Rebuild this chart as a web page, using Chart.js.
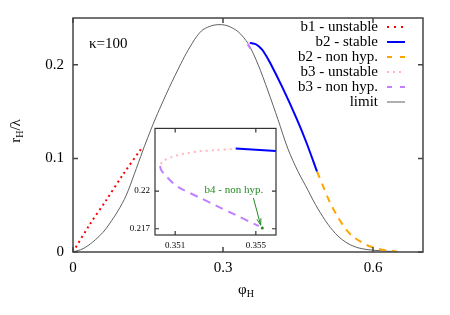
<!DOCTYPE html>
<html>
<head>
<meta charset="utf-8">
<script src="https://cdn.jsdelivr.net/npm/chart.js@4.4.1/dist/chart.umd.min.js"></script>
<style>
  html, body { margin: 0; padding: 0; background: #fff; }
  #wrap { position: relative; width: 450px; height: 315px; }
  #main { position: absolute; left: 0; top: 0; }
  #inset { position: absolute; left: 100px; top: 118px; }
</style>
</head>
<body>
<div id="wrap">
  <canvas id="main" width="450" height="315"></canvas>
  <canvas id="inset" width="190" height="134"></canvas>
</div>
<script>
// branch b1 (unstable)
const b1X = [0, 0.033, 0.066, 0.099, 0.138];
const b1Y = [0, 0.029, 0.055, 0.082, 0.1115];

// branch b2 (stable, then non hyperbolic)
const b2sX = [0.3540, 0.3560, 0.3600, 0.3650, 0.3700, 0.3750, 0.3800, 0.3934, 0.4200, 0.4468, 0.4668, 0.4880];
const b2sY = [0.2234, 0.2232, 0.2228, 0.2220, 0.2203, 0.2180, 0.2150, 0.2030, 0.1745, 0.1430, 0.1170, 0.0860];
const b2nX = [0.4880, 0.5000, 0.5134, 0.5300, 0.5450, 0.5600, 0.5870, 0.6100, 0.6300, 0.6470];
const b2nY = [0.0860, 0.0705, 0.0535, 0.0370, 0.0250, 0.0165, 0.0075, 0.0035, 0.0015, 0.0005];

// branch b3 (unstable, then non hyperbolic)
const b3uX = [0.35380, 0.35301, 0.35219, 0.35136, 0.35079, 0.35037, 0.35025];
const b3uY = [0.22335, 0.22327, 0.22317, 0.22295, 0.22269, 0.22235, 0.22200];
const b3nX = [0.35025, 0.35030, 0.35046, 0.35095, 0.35136, 0.35220, 0.35300, 0.35400, 0.35500, 0.35515];
const b3nY = [0.22200, 0.22170, 0.22136, 0.22056, 0.22014, 0.21949, 0.21886, 0.21810, 0.21732, 0.21721];

// b4 point
const b4X = [0.35532];
const b4Y = [0.21705];

// limit curve
const limX = [0, 0.02, 0.0394, 0.06, 0.0728, 0.09, 0.106, 0.1228, 0.1394, 0.153, 0.166, 0.18, 0.1928, 0.216, 0.23, 0.247, 0.26, 0.28, 0.297,
              0.31, 0.33, 0.35, 0.37, 0.39, 0.41, 0.43, 0.45, 0.47, 0.48, 0.49, 0.51, 0.53, 0.55, 0.57, 0.59, 0.61, 0.63, 0.65];
const limY = [0, 0.0035, 0.0106, 0.021, 0.030, 0.044, 0.060, 0.0835, 0.108, 0.127, 0.144, 0.161, 0.176, 0.2015, 0.2155, 0.2300, 0.2375, 0.2422, 0.2429,
              0.2415, 0.2355, 0.2228, 0.2005, 0.172, 0.1415, 0.110, 0.086, 0.066, 0.0555, 0.046, 0.0295, 0.017, 0.009, 0.0045, 0.0025, 0.0015, 0.0008, 0.0003];

const labels = ["b1 - unstable", "b2 - stable", "b2 - non hyp.", "b3 - unstable", "b3 - non hyp.", "limit"];
const xTicks = [0, 0.3, 0.6];
const yTicks = [0, 0.1, 0.2];
const insetXTicks = [0.351, 0.355];
const insetYTicks = [0.217, 0.22];
const b4Text = "b4 - non hyp.";
const b4TextAt = [0.35391, 0.22008];
const b4ArrowFrom = [0.35488, 0.21945];
const b4ArrowTo = [0.35524, 0.21728];

const pts = (xs, ys) => xs.map((x, i) => ({ x, y: ys[i] }));
const SERIF = "'Liberation Serif', 'Times New Roman', serif";
Chart.defaults.font.family = SERIF;
Chart.defaults.color = "#000";

const frame = {
    id: "frame",
    beforeDraw(chart, args, o) {
        if (!o.fill) return;
        const a = chart.chartArea, ctx = chart.ctx;
        ctx.save();
        ctx.fillStyle = "#fff";
        ctx.fillRect(a.left, a.top, a.right - a.left, a.bottom - a.top);
        ctx.restore();
    },
    afterDatasetsDraw(chart, args, o) {
        const { ctx, chartArea: a, scales } = chart;
        ctx.save();
        ctx.strokeStyle = o.color;
        ctx.lineWidth = o.width;
        ctx.strokeRect(a.left, a.top, a.right - a.left, a.bottom - a.top);
        ctx.beginPath();
        scales.x.ticks.forEach((t) => {
            const p = scales.x.getPixelForValue(t.value);
            ctx.moveTo(p, a.bottom); ctx.lineTo(p, a.bottom - o.len);
            ctx.moveTo(p, a.top); ctx.lineTo(p, a.top + o.len);
        });
        scales.y.ticks.forEach((t) => {
            const p = scales.y.getPixelForValue(t.value);
            ctx.moveTo(a.left, p); ctx.lineTo(a.left + o.len, p);
            ctx.moveTo(a.right, p); ctx.lineTo(a.right - o.len, p);
        });
        ctx.stroke();
        ctx.restore();
    }
};

function subText(ctx, base, sub, tail, x, y) {
    ctx.font = `15px ${SERIF}`;
    const wb = ctx.measureText(base).width, wt = ctx.measureText(tail).width;
    ctx.font = `10px ${SERIF}`;
    const ws = ctx.measureText(sub).width;
    let s = x - (wb + ws + wt) / 2;
    ctx.textAlign = "left";
    ctx.textBaseline = "middle";
    ctx.font = `15px ${SERIF}`;
    ctx.fillText(base, s, y);
    ctx.font = `10px ${SERIF}`;
    ctx.fillText(sub, s + wb, y + 4);
    ctx.font = `15px ${SERIF}`;
    ctx.fillText(tail, s + wb + ws, y);
}

const deco = {
    id: "deco",
    afterDraw(chart) {
        const ctx = chart.ctx;
        ctx.save();
        ctx.fillStyle = "#000";
        ctx.font = `15px ${SERIF}`;
        ctx.textAlign = "right";
        ctx.textBaseline = "middle";
        chart.data.datasets.forEach((ds, i) => {
            const y = 27 + i * 15;
            ctx.fillText(ds.label, 378, y);
            ctx.save();
            ctx.strokeStyle = ds.borderColor;
            ctx.lineWidth = ds.borderWidth;
            ctx.setLineDash(ds.legendDash || []);
            ctx.beginPath(); ctx.moveTo(387, y); ctx.lineTo(405, y); ctx.stroke();
            ctx.restore();
        });
        ctx.textAlign = "left";
        ctx.fillText("κ=100", 89, 44);
        subText(ctx, "φ", "H", "", 246, 290);
        ctx.translate(16, 131);
        ctx.rotate(-Math.PI / 2);
        subText(ctx, "r", "H", "/λ", 0, 0);
        ctx.restore();
    }
};

const note = {
    id: "note",
    afterDatasetsDraw(chart) {
        const { ctx, scales: { x, y } } = chart;
        ctx.save();
        ctx.fillStyle = ctx.strokeStyle = "#228b22";
        ctx.font = `11px ${SERIF}`;
        ctx.textAlign = "center";
        ctx.textBaseline = "middle";
        ctx.fillText(b4Text, x.getPixelForValue(b4TextAt[0]), y.getPixelForValue(b4TextAt[1]));
        const x0 = x.getPixelForValue(b4ArrowFrom[0]), y0 = y.getPixelForValue(b4ArrowFrom[1]);
        const x1 = x.getPixelForValue(b4ArrowTo[0]), y1 = y.getPixelForValue(b4ArrowTo[1]);
        const ang = Math.atan2(y1 - y0, x1 - x0);
        ctx.lineWidth = 1;
        ctx.beginPath(); ctx.moveTo(x0, y0); ctx.lineTo(x1, y1); ctx.stroke();
        ctx.beginPath();
        ctx.moveTo(x1, y1);
        ctx.lineTo(x1 - 7 * Math.cos(ang - 0.3), y1 - 7 * Math.sin(ang - 0.3));
        ctx.moveTo(x1, y1);
        ctx.lineTo(x1 - 7 * Math.cos(ang + 0.3), y1 - 7 * Math.sin(ang + 0.3));
        ctx.stroke();
        ctx.restore();
    }
};

const line = (label, xs, ys, color, width, dash, legendDash) => ({
    label, data: pts(xs, ys), showLine: true, borderColor: color, backgroundColor: color,
    borderWidth: width, borderDash: dash, legendDash, pointRadius: 0, tension: 0.3
});

const axis = (min, max, ticks, fit, size, pad) => ({
    type: "linear", min, max,
    afterBuildTicks: (s) => { s.ticks = ticks.map((v) => ({ value: v })); },
    afterFit: fit,
    grid: { display: false, drawTicks: false, tickLength: 0 }, border: { display: false },
    ticks: { font: { size }, padding: pad, callback: (v) => String(v) }
});

new Chart(document.getElementById("main"), {
    type: "scatter",
    data: {
        datasets: [
            line(labels[0], b1X, b1Y, "#ff0000", 2, [2, 3.5], [2, 5]),
            line(labels[1], b2sX, b2sY, "#0000ff", 2, [], []),
            line(labels[2], b2nX, b2nY, "#ffa500", 2, [7, 6], [5, 8]),
            line(labels[3], b3uX, b3uY, "#ffb6c1", 2, [2, 4], [2, 4]),
            line(labels[4], b3nX, b3nY, "#c080ff", 2, [6, 5], [5, 8]),
            line(labels[5], limX, limY, "#606060", 1, [], [])
        ]
    },
    options: {
        responsive: false, animation: false, devicePixelRatio: 1,
        layout: { padding: { left: 0, right: 27, top: 15, bottom: 0 } },
        plugins: { legend: { display: false }, tooltip: { enabled: false },
                   frame: { color: "#444", width: 1.5, len: 5 } },
        scales: {
            x: axis(0, 0.7, xTicks, (s) => { s.height = 63; }, 15, 7),
            y: axis(0, 0.25, yTicks, (s) => { s.width = 73; }, 15, 9)
        }
    },
    plugins: [frame, deco]
});

new Chart(document.getElementById("inset"), {
    type: "scatter",
    data: {
        datasets: [
            line(labels[1], b2sX, b2sY, "#0000ff", 2, [], []),
            line(labels[3], b3uX, b3uY, "#ffb6c1", 2, [2, 4], []),
            line(labels[4], b3nX, b3nY, "#c080ff", 2, [8, 6], []),
            { label: "b4", data: pts(b4X, b4Y), pointRadius: 1.5, backgroundColor: "#228b22", borderColor: "#228b22", borderWidth: 0 }
        ]
    },
    options: {
        responsive: false, animation: false, devicePixelRatio: 1,
        layout: { padding: { left: 0, right: 14, top: 10, bottom: 0 } },
        plugins: { legend: { display: false }, tooltip: { enabled: false },
                   frame: { color: "#333", width: 1.2, len: 4, fill: true } },
        scales: {
            x: axis(0.35, 0.356, insetXTicks, (s) => { s.height = 17; }, 9, 5),
            y: axis(0.2165, 0.225, insetYTicks, (s) => { s.width = 55; }, 9, 5)
        }
    },
    plugins: [frame, note]
});
</script>
</body>
</html>
